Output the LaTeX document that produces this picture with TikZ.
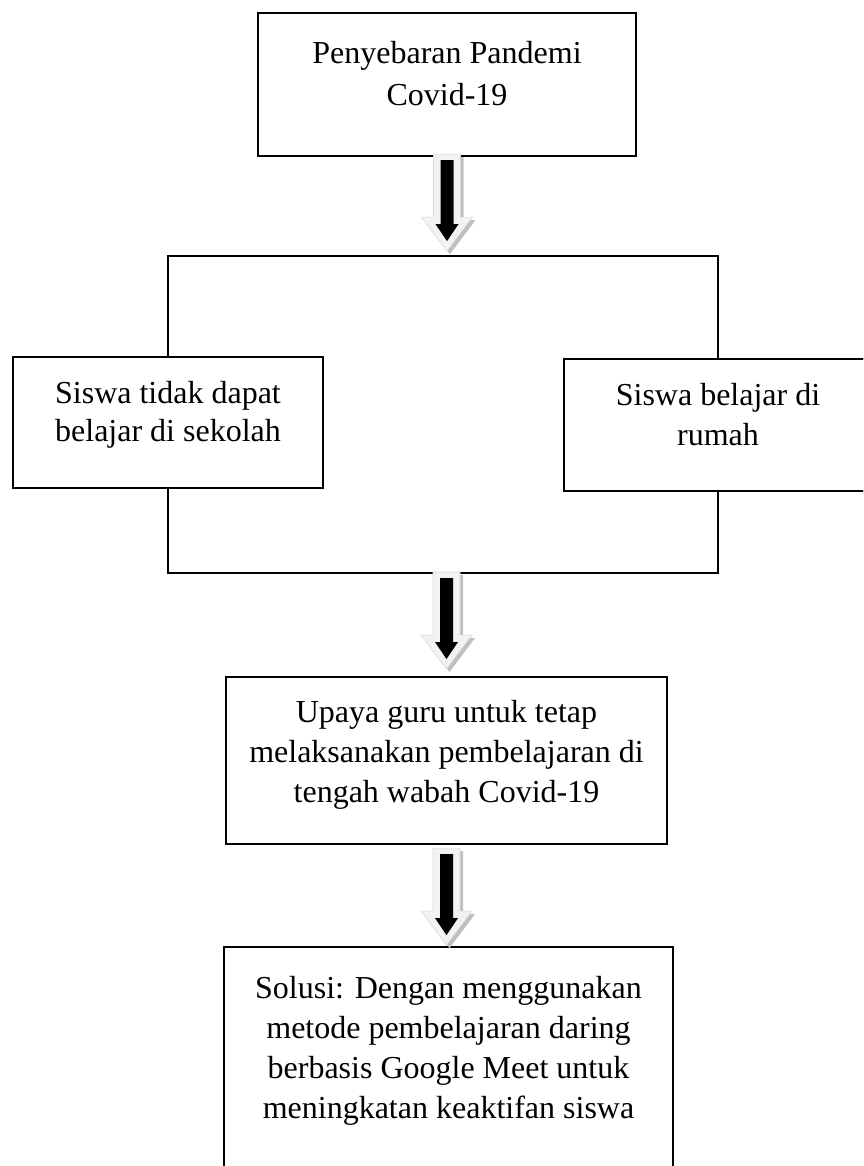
\documentclass[tikz,border=0pt]{standalone}
\usepackage{fontspec}
\setmainfont{Liberation Serif}
\definecolor{arrlight}{HTML}{F2F2F2}
\definecolor{arrshade}{HTML}{BFBFBF}
\definecolor{arredge}{HTML}{D9D9D9}
\begin{document}
\begin{tikzpicture}[x=1pt,y=-1pt,
  box/.style={draw=black, line width=2.2pt, fill=white, inner sep=0pt},
  txt/.style={align=center, inner sep=0pt, anchor=north, font=\fontsize{32}{40}\selectfont},
  conn/.style={draw=black, line width=2.2pt},
  blockarrow/.pic={
    \fill[arrshade, shift={(3,3)}] (-13.5,0) -- (13.5,0) -- (13.5,63) -- (25.5,63) -- (0,97) -- (-25.5,63) -- (-13.5,63) -- cycle;
    \filldraw[fill=arrlight, draw=arredge, line width=0.6pt] (-13.5,0) -- (13.5,0) -- (13.5,63) -- (25.5,63) -- (0,97) -- (-25.5,63) -- (-13.5,63) -- cycle;
    \fill[black] (-6.5,6) -- (6.5,6) -- (6.5,70) -- (11.5,70) -- (0,87) -- (-11.5,70) -- (-6.5,70) -- cycle;
  }]
\useasboundingbox (0,0) rectangle (863,1166);
\clip (0,0) rectangle (863,1166);

% connector frame
\coordinate (bartop) at (446.5,256);
\coordinate (barbot) at (446.5,573);

% boxes
\node[box, minimum width=378, minimum height=143] (topbox) at (447,84.5) {};
\node[box, minimum width=310, minimum height=131] (lbox) at (168,422.5) {};
\node[box, minimum width=308, minimum height=132] (rbox) at (718,425) {};
\node[box, minimum width=441, minimum height=167] (ubox) at (446.5,760.5) {};
\node[box, minimum width=449, minimum height=243] (sbox) at (448.5,1068.5) {};

\begin{scope}[on background layer/.style={}]
\draw[conn] (lbox.north) |- (bartop) -| (rbox.north);
\draw[conn] (lbox.south) |- (barbot) -| (rbox.south);
\end{scope}

% redraw boxes over connectors
\node[box, minimum width=310, minimum height=131] at (lbox) {};
\node[box, minimum width=308, minimum height=132] at (rbox) {};

% texts
\node[txt, font=\fontsize{32}{42}\selectfont] (topt) at (447,41) {Penyebaran Pandemi\\Covid-19};
\node[txt, font=\fontsize{32}{38}\selectfont] (lt) at (168,381) {Siswa tidak dapat\\belajar di sekolah};
\node[txt] (rt) at (718,383) {Siswa belajar di\\rumah};
\node[txt] (ut) at (446.5,700) {Upaya guru untuk tetap\\melaksanakan pembelajaran di\\tengah wabah Covid-19};
\node[txt] (st) at (448.5,976) {Solusi: Dengan menggunakan\\metode pembelajaran daring\\berbasis Google Meet untuk\\meningkatan keaktifan siswa};

% block arrows
\pic at ([yshift=3pt]topbox.south) {blockarrow};
\pic at ([yshift=1pt]barbot) {blockarrow};
\pic at ([yshift=-3pt]ubox.south) {blockarrow};
\end{tikzpicture}
\end{document}
